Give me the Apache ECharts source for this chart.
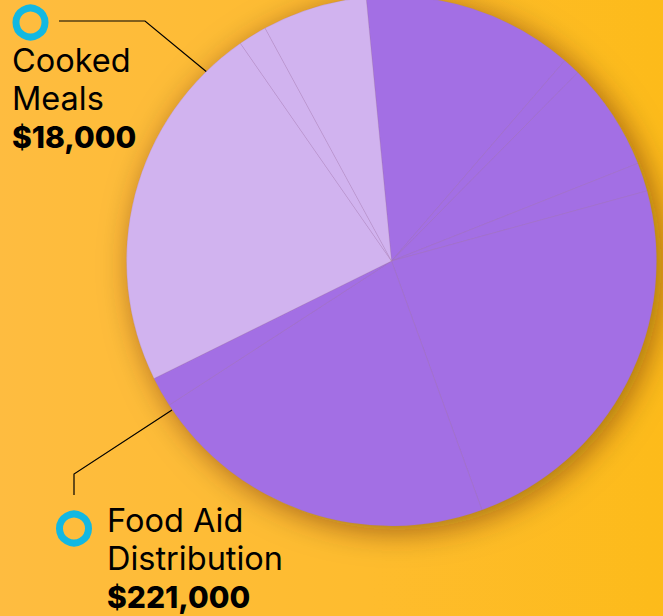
<!DOCTYPE html>
<html>
<head>
<meta charset="utf-8">
<script src="https://cdn.jsdelivr.net/npm/echarts@6/dist/echarts.min.js"></script>
<style>
  html, body { margin: 0; padding: 0; }
  #chart { width: 663px; height: 616px; background: linear-gradient(90deg, #FEBC40 0%, #FEBC2E 55%, #FDBB1A 100%); }
</style>
</head>
<body>
<div id="chart"></div>
<script>
// ---- data (clockwise from the top) ----
const categories = [
  'Program A', 'Program B', 'Program C', 'Program D', 'Program E',
  'Food Aid Distribution', 'Program F',
  'Program G', 'Cooked Meals', 'Program H'
];
const values = [133000, 11000, 68000, 18000, 245000, 221000, 19000, 234000, 18000, 66000];
const groups = ['dark', 'dark', 'dark', 'dark', 'dark', 'dark', 'dark', 'light', 'light', 'light'];
const labelNames = ['Food Aid Distribution', 'Cooked Meals'];
const labelLines = { 'Food Aid Distribution': ['Food Aid', 'Distribution'], 'Cooked Meals': ['Cooked', 'Meals'] };

// ---- styles ----
const groupColor = { dark: '#A36FE4', light: '#D1B3EF' };
const FONT = 'Inter, "Open Sans", sans-serif';
const labelPlace = {
  'Food Aid Distribution': { x: 107, y: 501, line: [[172, 410], [74, 474], [74, 495]] },
  'Cooked Meals': { x: 12, y: 41, line: [[208, 73], [145, 21], [59, 21]] }
};

function fmtMoney(v) { return '$' + Number(v).toLocaleString('en-US'); }

const chart = echarts.init(document.getElementById('chart'), null, { renderer: 'svg' });

const data = categories.map((name, i) => {
  const labelled = labelNames.indexOf(name) >= 0;
  return {
    name: name,
    value: values[i],
    itemStyle: { color: groupColor[groups[i]] },
    label: { show: labelled },
    labelLine: { show: labelled }
  };
});

chart.setOption({
  backgroundColor: 'transparent',
  animation: false,
  graphic: [
    { type: 'circle', shape: { cx: 30.5, cy: 22.5, r: 14.5 }, style: { fill: 'none', stroke: '#12B8E2', lineWidth: 7 }, z: 10 },
    { type: 'circle', shape: { cx: 74, cy: 528.5, r: 14.5 }, style: { fill: 'none', stroke: '#12B8E2', lineWidth: 7 }, z: 10 }
  ],
  series: [
    {
      type: 'pie',
      silent: true,
      center: [391.5, 261],
      radius: 264,
      z: 1,
      label: { show: false },
      labelLine: { show: false },
      itemStyle: { color: '#A36FE4', shadowBlur: 32, shadowColor: 'rgba(60,25,0,0.5)', shadowOffsetX: 6, shadowOffsetY: 5 },
      data: [{ value: 1, name: 'shadow' }]
    },
    {
      type: 'pie',
      center: [391.5, 261],
      radius: 265,
      z: 2,
      startAngle: 95.5,
      clockwise: true,
      avoidLabelOverlap: false,
      itemStyle: { borderWidth: 0.45, borderColor: 'rgba(165,125,145,0.45)' },
      label: {
        position: 'outside',
        color: '#000',
        formatter: function (p) {
          const l = labelLines[p.name];
          if (!l) return '';
          return '{a|' + l[0] + '}\n{a|' + l[1] + '}\n{b|' + fmtMoney(p.value) + '}';
        },
        rich: {
          a: { fontFamily: FONT, fontSize: 32.5, lineHeight: 38.5, color: '#000', fontWeight: 400 },
          b: { fontFamily: FONT, fontSize: 30, lineHeight: 38.5, color: '#000', fontWeight: 800 }
        }
      },
      labelLine: { lineStyle: { color: '#000', width: 1.2 }, smooth: false },
      labelLayout: function (params) {
        const name = categories[params.dataIndex];
        const pl = name && labelPlace[name];
        if (!pl) return {};
        return { x: pl.x, y: pl.y, align: 'left', verticalAlign: 'top', labelLinePoints: pl.line };
      },
      data: data
    }
  ]
});
</script>
</body>
</html>
